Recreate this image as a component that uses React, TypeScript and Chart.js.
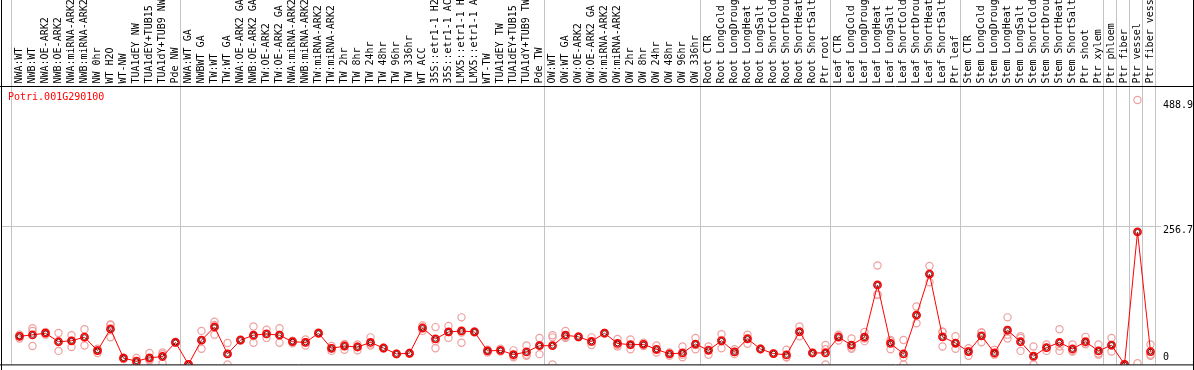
import React, { useEffect, useRef } from 'react';
import { Chart, registerables } from 'chart.js';

Chart.register(...registerables);

const geneTitle = 'Potri.001G290100';

const categories: string[] = [
  'NWA:WT', 'NWB:WT', 'NWA:OE-ARK2', 'NWB:OE-ARK2', 'NWA:miRNA-ARK2', 'NWB:miRNA-ARK2',
  'NW 0hr', 'WT H2O', 'WT-NW', 'TUA1dEY NW', 'TUA1dEY+TUB15 NW', 'TUA1dY+TUB9 NW', 'Pde NW',
  'NWA:WT GA', 'NWBWT GA', 'TW:WT', 'TW:WT GA', 'NWA:OE-ARK2 GA', 'NWB:OE-ARK2 GA',
  'TW:OE-ARK2', 'TW:OE-ARK2 GA', 'NWA:miRNA-ARK2 GA', 'NWB:miRNA-ARK2 GA', 'TW:miRNA-ARK2',
  'TW:miRNA-ARK2 GA', 'TW 2hr', 'TW 8hr', 'TW 24hr', 'TW 48hr', 'TW 96hr', 'TW 336hr',
  'WT ACC', '35S::etr1-1 H2O', '35S::etr1-1 ACC', 'LMX5::etr1-1 H2O', 'LMX5::etr1-1 ACC',
  'WT-TW', 'TUA1dEY TW', 'TUA1dEY+TUB15 TW', 'TUA1dY+TUB9 TW', 'Pde TW',
  'OW:WT', 'OW:WT GA', 'OW:OE-ARK2', 'OW:OE-ARK2 GA', 'OW:miRNA-ARK2', 'OW:miRNA-ARK2 GA',
  'OW 2hr', 'OW 8hr', 'OW 24hr', 'OW 48hr', 'OW 96hr', 'OW 336hr',
  'Root CTR', 'Root LongCold', 'Root LongDrought', 'Root LongHeat', 'Root LongSalt',
  'Root ShortCold', 'Root ShortDrought', 'Root ShortHeat', 'Root ShortSalt', 'Ptr root',
  'Leaf CTR', 'Leaf LongCold', 'Leaf LongDrought', 'Leaf LongHeat', 'Leaf LongSalt',
  'Leaf ShortCold', 'Leaf ShortDrought', 'Leaf ShortHeat', 'Leaf ShortSalt', 'Ptr leaf',
  'Stem CTR', 'Stem LongCold', 'Stem LongDrought', 'Stem LongHeat', 'Stem LongSalt',
  'Stem ShortCold', 'Stem ShortDrought', 'Stem ShortHeat', 'Stem ShortSalt', 'Ptr shoot',
  'Ptr xylem', 'Ptr phloem', 'Ptr fiber', 'Ptr vessel', 'Ptr fiber vessel',
];

const meanValues: number[] = [
  52, 54.6, 57.7, 41.9, 43.7, 50.4, 25.5, 65.5, 11.5, 6, 12.1, 14.6, 40.6,
  0, 44.9, 69.2, 19.4, 44.9, 54, 56.4, 54, 42, 40.6, 57.7, 29.7, 34, 32.2, 40.6, 30.3,
  19.4, 20.6, 67.3, 47.3, 60, 61.9, 60, 24.9, 26, 18.2, 23.1, 34.6,
  34.6, 54, 51, 42.5, 57.7, 38.8, 36.4, 37, 27.9, 19.4, 21.2, 37.6,
  26, 43.7, 23.1, 47.3, 28.5, 20, 17.6, 60.6, 21.2, 21.2,
  50.4, 35.8, 50.4, 147, 38.8, 19.4, 91, 167, 51, 39.5,
  23.7, 52.8, 21.2, 63.2, 41.9, 15.2, 31, 40.6, 28.5, 41.9, 24.9,
  35.8, 0, 245, 23.7,
];

const rep1: (number | null)[] = [
  55, 67, 60, 58, 54, 65, 29, 74, 13, 12, 21, 22, 42,
  0, 62, 79, 39.5, 45, 70, 64, 67, 44, 46, 59, 34, 37, 37, 50, 31,
  19, 21, 72, 69, 71, 87, 61, 27, 29, 26, 35, 49,
  54, 62, 52, 50, 58, 47, 46, 40, 35, 22, 33, 49,
  33, 56, 28, 55, 29, 20, 27, 70, 21, 36,
  55, 48, 60, 183, 45, 45, 107, 182, 61, 52,
  30, 59, 27, 87, 52, 33, 37, 65, 37, 51, 37,
  49, 0, 489, 37,
];

const rep2: (number | null)[] = [
  48, 62, 58, 25, 32, 35, 26, 73, 10, 3, 9, 19, 40,
  0, 29, 55, 0, 44, 40, 49, 40, 43, 41, 57, 30, 38, 26, 37, 30,
  20, 20, 62, 30, 49, 40, 59, 22, 24, 13, 16, 19,
  50, 49, 50, 36, 57, 36, 36, 37, 27, 20, 18, 36,
  27, 45, 23, 49, 28, 20, 13, 52, 21, 28,
  52, 31, 48, 129, 43, 13, 91, 167, 60, 38,
  25, 59, 19, 55, 49, 13, 31, 33, 25, 37, 20,
  35, 0, 2, 18,
];

const rep3: (number | null)[] = [
  53, 34, 55, 42, 44, 50, 21, 50, 11.5, 3, 7, 2, 40,
  0, 44, 73, 19, 46, 52, 56, 55, 39, 35, 57, 25, 27, 33, 35, 30,
  19, 21, 68, 43, 60, 59, 60, 26, 25, 16, 18, 36,
  0, 51, 51, 42, 58, 33, 28, 34, 22, 16, 13, 28,
  18, 30, 19, 38, 28.5, 20, 13, 60, 21, 0,
  44, 29, 43, 129, 28, 0, 76, 152, 33, 29,
  16, 41, 18, 48, 25, 0, 25, 25, 24, 38, 18,
  24, 0, null, 16,
];

const groupBoundaries: number[] = [-0.5, 12.5, 40.5, 52.5, 62.5, 72.5, 83.5, 84.5, 85.5, 86.5, 87.5];
const yTickLabels: string[] = ['488.9', '256.7', '0'];
const yTickValues: number[] = [488.9, 256.7, 0];
const gridValue = 256.7;
const yMax = 515;

export default function App() {
  const ref = useRef<HTMLCanvasElement>(null);

  useEffect(() => {
    const canvas = ref.current;
    if (!canvas) return;

    const meanData = meanValues.map((v, i) => ({ x: i, y: v }));
    const repData: { x: number; y: number }[] = [];
    [rep1, rep2, rep3].forEach((arr) =>
      arr.forEach((v, i) => {
        if (v !== null && v !== undefined) repData.push({ x: i, y: v });
      })
    );

    const mono = '10px "DejaVu Sans Mono", "Liberation Mono", monospace';

    const decor = {
      id: 'decor',
      beforeDatasetsDraw(chart: any) {
        const ctx = chart.ctx as CanvasRenderingContext2D;
        const xs = chart.scales.x;
        const ys = chart.scales.y;
        const area = chart.chartArea;
        ctx.save();
        ctx.strokeStyle = '#c4c4c4';
        ctx.lineWidth = 1;
        ctx.beginPath();
        for (const b of groupBoundaries) {
          const px = Math.round(xs.getPixelForValue(b)) - 1.5;
          ctx.moveTo(px, 0);
          ctx.lineTo(px, area.bottom);
        }
        const gy = Math.round(ys.getPixelForValue(gridValue)) + 0.5;
        ctx.moveTo(1, gy);
        ctx.lineTo(area.right + 4, gy);
        ctx.stroke();
        ctx.restore();
      },
      afterDraw(chart: any) {
        const ctx = chart.ctx as CanvasRenderingContext2D;
        const xs = chart.scales.x;
        const ys = chart.scales.y;
        const area = chart.chartArea;
        const W = chart.width;
        const H = chart.height;
        ctx.save();
        // frame
        ctx.strokeStyle = '#000';
        ctx.lineWidth = 1;
        ctx.beginPath();
        ctx.moveTo(0, area.top + 0.5);
        ctx.lineTo(W, area.top + 0.5);
        ctx.moveTo(0, area.bottom + 0.5);
        ctx.lineTo(W, area.bottom + 0.5);
        ctx.moveTo(1.5, 0);
        ctx.lineTo(1.5, H);
        ctx.moveTo(W - 0.5, 0);
        ctx.lineTo(W - 0.5, H);
        ctx.stroke();

        // category labels (rotated)
        ctx.fillStyle = '#000';
        ctx.font = mono;
        ctx.textAlign = 'left';
        ctx.textBaseline = 'middle';
        categories.forEach((lab, i) => {
          const px = xs.getPixelForValue(i);
          ctx.save();
          ctx.translate(px, area.top - 2.5);
          ctx.rotate(-Math.PI / 2);
          ctx.fillText(lab, 0, 0);
          ctx.restore();
        });

        // title
        ctx.fillStyle = '#ff0000';
        ctx.font = mono;
        ctx.textAlign = 'left';
        ctx.textBaseline = 'middle';
        ctx.fillText(geneTitle, 8, area.top + 11);

        // y labels
        ctx.fillStyle = '#000';
        yTickValues.forEach((v, k) => {
          const py = ys.getPixelForValue(v);
          const yy = v === 0 ? py - 7 : py + 5;
          ctx.fillText(yTickLabels[k], area.right + 6, yy);
        });
        ctx.restore();
      },
    };

    const chart = new Chart(canvas, {
      type: 'line',
      data: {
        datasets: [
          {
            label: 'mean',
            data: meanData,
            borderColor: '#ff0000',
            borderWidth: 1,
            pointRadius: 3.6,
            pointBorderColor: '#ff0000',
            pointBorderWidth: 1.6,
            pointBackgroundColor: 'rgba(0,0,0,0)',
            tension: 0,
            order: 1,
          },
          {
            label: 'mean core',
            data: meanData,
            showLine: false,
            pointRadius: 2.4,
            pointBorderColor: 'rgba(70,0,0,0.85)',
            pointBorderWidth: 1,
            pointBackgroundColor: 'rgba(0,0,0,0)',
            order: 0,
          },
          {
            label: 'replicates',
            data: repData,
            showLine: false,
            pointRadius: 3.6,
            pointBorderColor: '#eea0a0',
            pointBorderWidth: 1.2,
            pointBackgroundColor: 'rgba(0,0,0,0)',
            order: 2,
          },
        ],
      },
      options: {
        responsive: false,
        animation: false,
        devicePixelRatio: 1,
        events: [],
        layout: { padding: { left: 13, right: 37, top: 86, bottom: 1 } },
        plugins: {
          legend: { display: false },
          tooltip: { enabled: false },
        },
        scales: {
          x: { type: 'linear', display: false, min: -0.5, max: categories.length - 0.5 },
          y: { type: 'linear', display: false, min: 0, max: yMax },
        },
      },
      plugins: [decor],
    });

    return () => chart.destroy();
  }, []);

  return (
    <div style={{ position: 'absolute', left: 0, top: 0, width: 1194, height: 370, background: '#fff' }}>
      <canvas ref={ref} width={1194} height={370} style={{ display: 'block', width: 1194, height: 370 }} />
    </div>
  );
}
